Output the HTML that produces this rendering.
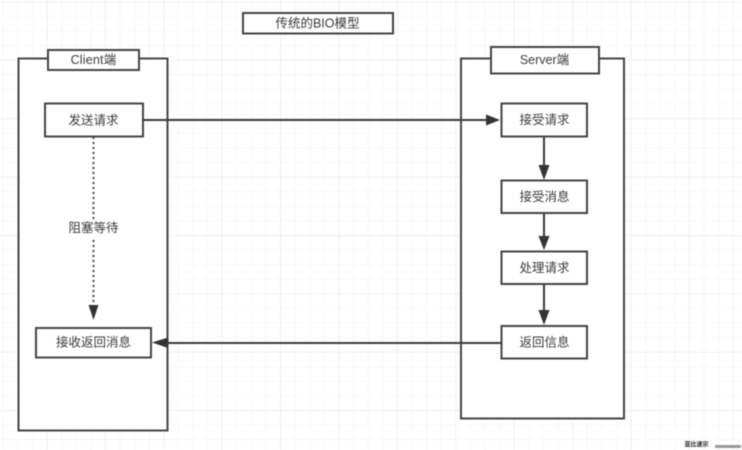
<!DOCTYPE html>
<html><head><meta charset="utf-8"><style>
html,body{margin:0;padding:0;background:#fff}
svg{display:block}
text{font-family:"Liberation Sans","Noto Sans CJK SC",sans-serif;font-size:12.5px;fill:#3a3a3a;text-anchor:middle;dominant-baseline:central}
</style></head><body>
<svg width="742" height="450" viewBox="0 0 742 450" xmlns="http://www.w3.org/2000/svg" style="filter:blur(.4px)">
<defs>
<pattern id="mn" x="3" y="1.5" width="14.6" height="14.6" patternUnits="userSpaceOnUse">
<path d="M0 0H14.6M0 0V14.6" stroke="#f1f1f1" stroke-width="1" fill="none"/>
</pattern>
<pattern id="mj" x="46.7" y="1.5" width="58.4" height="58.4" patternUnits="userSpaceOnUse">
<path d="M0 0H58.4M0 0V58.4" stroke="#e9e9e9" stroke-width="1.2" fill="none"/>
</pattern>
</defs>
<rect width="742" height="450" fill="#fff"/>
<rect width="742" height="450" fill="url(#mn)"/>
<rect width="742" height="450" fill="url(#mj)"/>

<g fill="#fff" stroke="#444" stroke-width="2">
<rect x="243" y="13" width="150" height="20.5"/>
<rect x="18.5" y="58.5" width="149" height="372"/>
<rect x="461" y="58.5" width="163" height="360"/>
<rect x="48" y="50" width="91" height="20"/>
<rect x="491" y="47" width="108" height="26.500"/>
<rect x="45" y="103.500" width="98" height="33"/>
<rect x="36" y="328" width="115" height="29.500"/>
<rect x="501.500" y="103.500" width="85.500" height="33"/>
<rect x="501.500" y="180.500" width="85.500" height="32.500"/>
<rect x="501.500" y="251.500" width="85.500" height="32.500"/>
<rect x="501.500" y="326" width="85.500" height="32.500"/>
</g>

<g stroke="#3c3c3c" stroke-width="2" fill="none">
<path d="M143 120H486"/>
<path d="M501 343H166"/>
<path d="M544 137V166"/>
<path d="M544 213V237"/>
<path d="M544 284V311"/>
</g>
<path d="M93.500 137V221M93.500 240V305" stroke="#4a4a4a" stroke-width="2" stroke-dasharray="2 3" fill="none"/>
<g fill="#333">
<path d="M486 114.500L500 120L486 125.500Z"/>
<path d="M152 342.500L168 337.500V348Z"/>
<path d="M538.500 165H549.500L544 180Z"/>
<path d="M538.500 236H549.500L544 250Z"/>
<path d="M538.500 310H549.500L544 325Z"/>
<path d="M88.500 305H98.500L93.500 320Z"/>
</g>

<rect x="60" y="220" width="68" height="17" fill="#fff"/>
<text x="317.500" y="23.500">传统的BIO模型</text>
<text x="93.500" y="60" style="letter-spacing:.2px">Client端</text>
<text x="544.500" y="60">Server端</text>
<text x="93.500" y="120.500">发送请求</text>
<text x="93.500" y="228">阻塞等待</text>
<text x="93.500" y="342.500">接收返回消息</text>
<text x="544.500" y="120">接受请求</text>
<text x="544.500" y="197">接受消息</text>
<text x="544.500" y="268">处理请求</text>
<text x="544.500" y="342.500">返回信息</text>
<text x="696.500" y="445.500" style="font-size:6px;font-weight:bold;fill:#222">亚比速宗</text>
<rect x="715" y="445" width="26" height="3" fill="#999"/>
</svg>
</body></html>
